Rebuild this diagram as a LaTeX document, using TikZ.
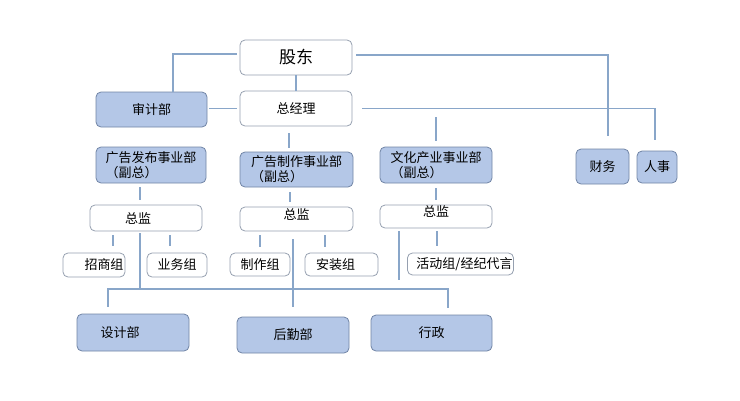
\documentclass[tikz,border=0pt]{standalone}
\usepackage{fontspec}
\setmainfont{Noto Sans CJK SC}
\usepackage{tikz}
\definecolor{org_fill}{RGB}{180, 199, 231}
\definecolor{org_edge}{RGB}{112, 132, 165}
\definecolor{org_gray}{RGB}{150, 160, 176}
\definecolor{org_line}{RGB}{137, 166, 201}
\tikzstyle{dept}=[rectangle,rounded corners=5pt,fill=org_fill,draw=org_edge,
  line width=0.8pt,inner sep=1pt,align=left,font=\fontsize{13}{15}\selectfont]
\tikzstyle{post}=[rectangle,rounded corners=5pt,fill=white,draw=org_gray,
  line width=0.8pt,inner sep=1pt,align=left,font=\fontsize{13}{15}\selectfont]
\tikzstyle{link}=[draw=org_line,line width=1.3pt]

\begin{document}
\begin{tikzpicture}[x=1pt,y=-1pt]
    \useasboundingbox (0,0) rectangle (740,400);
    % top level
    \node [style=post, minimum width=112pt, minimum height=35pt, font=\fontsize{17}{19}\selectfont] (gd) at (296,57.5) {股东};
    \node [style=post, minimum width=112pt, minimum height=35pt] (zjl) at (296,108.5) {总经理};
    \node [style=dept, minimum width=111pt, minimum height=35pt] (sj) at (151.5,109.5) {审计部};
    % divisions
    \node [style=dept, minimum width=110pt, minimum height=36pt] (fb) at (151,165) {广告发布事业部\\（副总）};
    \node [style=dept, minimum width=113pt, minimum height=35pt] (zz) at (296.5,169.5) {广告制作事业部\\（副总）};
    \node [style=dept, minimum width=112pt, minimum height=36pt] (wh) at (436,165) {文化产业事业部\\（副总）};
    \node [style=dept, minimum width=53pt, minimum height=35pt] (cw) at (602.5,166.5) {财务};
    \node [style=dept, minimum width=40pt, minimum height=32pt] (rs) at (657,167) {人事};
    % directors
    \node [style=post, minimum width=112pt, minimum height=26pt] (zj1) at (146,218) {总监\hspace*{16pt}};
    \node [style=post, minimum width=113pt, minimum height=24pt, text depth=10pt] (zj2) at (296.5,219) {总监};
    \node [style=post, minimum width=112pt, minimum height=23pt, text depth=10pt] (zj3) at (436,216.5) {总监};
    % groups
    \node [style=post, minimum width=62pt, minimum height=24pt] (zs) at (94,265) {\hspace*{20pt}招商组};
    \node [style=post, minimum width=60pt, minimum height=24pt] (yw) at (177,265) {业务组};
    \node [style=post, minimum width=60pt, minimum height=23pt] (zzz) at (260,264.5) {制作组};
    \node [style=post, minimum width=73pt, minimum height=23pt] (az) at (341.5,264.5) {安装组\hspace*{12pt}};
    \node [style=post, minimum width=105pt, minimum height=22pt] (hd) at (460.5,264) {\hspace*{8pt}活动组/经纪代言};
    % shared departments
    \node [style=dept, minimum width=112pt, minimum height=37pt] (sjb) at (133,332.5) {设计部\hspace*{26pt}};
    \node [style=dept, minimum width=112pt, minimum height=36pt] (hq) at (293,335) {后勤部};
    \node [style=dept, minimum width=121pt, minimum height=36pt] (xz) at (431.5,333) {行政};
    \coordinate (cwtop) at (608,136);
    \coordinate (rstop) at (655,140);
    \coordinate (whtop) at (436,117);
    \coordinate (bus) at (293,289);
    % connectors
    \draw [style=link, shorten <=3pt] ([shift={(0,-3.5)}]gd.west) -| ([xshift=21.5]sj.north);
    \draw [style=link] (gd) to (zjl);
    \draw [style=link, shorten <=3pt, shorten >=2pt] (zjl.west) to (zjl.west -| sj.east);
    \draw [style=link, shorten <=4pt] ([shift={(0,-2.5)}]gd.east) -| (cwtop);
    \draw [style=link, shorten <=10pt] (zjl.east) -| (rstop);
    \draw [style=link, shorten >=6pt] (whtop) to (whtop |- wh.north);
    \draw [style=link, shorten <=7pt, shorten >=4pt] ([xshift=-7]zjl.south) to ([xshift=-7]zjl.south |- zz.north);
    \draw [style=link, shorten <=4pt, shorten >=5pt] ([xshift=-11]fb.south) to ([xshift=-11]fb.south |- zj1.north);
    \draw [style=link, shorten <=4pt, shorten >=7pt] ([xshift=-33]zj1.south) to ([xshift=-33]zj1.south |- zs.north);
    \draw [style=link, shorten <=4pt, shorten >=7pt] ([xshift=24]zj1.south) to ([xshift=24]zj1.south |- yw.north);
    \draw [style=link, shorten <=2pt] ([xshift=-6]zj1.south) to ([xshift=-6]zj1.south |- bus);
    \draw [style=link, shorten <=5pt, shorten >=5pt] ([xshift=-6.5]zz.south) to ([xshift=-6.5]zz.south |- zj2.north);
    \draw [style=link, shorten <=4pt, shorten >=6pt] ([xshift=-36.5]zj2.south) to ([xshift=-36.5]zj2.south |- zzz.north);
    \draw [style=link, shorten <=4pt, shorten >=6pt] ([xshift=28.5]zj2.south) to ([xshift=28.5]zj2.south |- az.north);
    \draw [style=link, shorten <=8pt, shorten >=10pt] ([xshift=-3.5]zj2.south) to (hq.north);
    \draw [style=link, shorten <=5pt, shorten >=5pt] (wh) to (zj3);
    \draw [style=link, shorten <=3pt, shorten >=7pt] ([xshift=1]zj3.south) to ([xshift=1]zj3.south |- hd.north);
    \draw [style=link, shorten <=3pt] ([xshift=-37]zj3.south) to ++(0,52);
    \draw [style=link] ([shift={(-25,-7)}]sjb.north) |- (bus) -| ([shift={(16.5,-7)}]xz.north);
\end{tikzpicture}
\end{document}
